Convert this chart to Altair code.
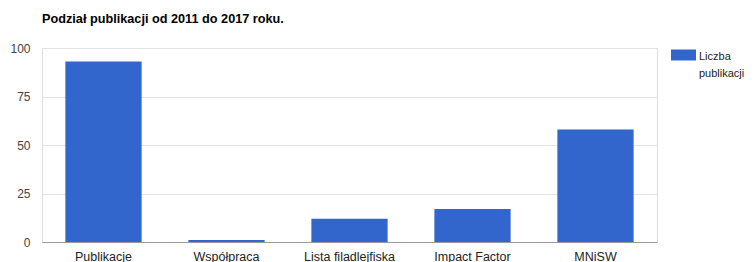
import altair as alt
import pandas as pd

categories = ["Publikacje", "Współpraca", "Lista filadlejfiska", "Impact Factor", "MNiSW"]
values = [93, 1, 12, 17, 58]
series = ["Liczba publikacji"] * len(categories)

df = pd.DataFrame({"kategoria": categories, "liczba": values, "seria": series})

FONT = "Liberation Sans"

chart = alt.Chart(df).mark_bar(color="#3366cc").encode(
    x=alt.X("kategoria:N", sort=categories, title=None,
            scale=alt.Scale(paddingInner=0.38, paddingOuter=0.19),
            axis=alt.Axis(labelAngle=0, ticks=False, domain=True, domainColor="#999999",
                          labelColor="#222222", labelFontSize=12.5, labelPadding=8,
                          labelFont=FONT)),
    y=alt.Y("liczba:Q", title=None, scale=alt.Scale(domain=[0, 100]),
            axis=alt.Axis(values=[0, 25, 50, 75, 100], ticks=False, domain=False,
                          gridColor="#e4e4e4", labelColor="#444444", labelFontSize=12,
                          labelPadding=12, labelFont=FONT)),
    color=alt.Color("seria:N", scale=alt.Scale(range=["#3366cc"]),
                    legend=alt.Legend(title=None, orient="none", legendX=629, legendY=-4,
                                      symbolType="M-1,-0.56H1V0.32H-1Z", symbolSize=625,
                                      symbolStrokeWidth=0, symbolOpacity=1,
                                      labelExpr="split(datum.label, ' ')",
                                      labelFontSize=11, labelColor="#222222", labelFont=FONT,
                                      labelOffset=3, labelBaseline="middle")),
).properties(
    width=615,
    height=194,
    title=alt.Title("Podział publikacji od 2011 do 2017 roku.", anchor="start", fontSize=12.7,
                    fontWeight="bold", font=FONT, color="#000000", offset=16, frame="group"),
    autosize=alt.AutoSizeParams(type="none"),
    padding={"left": 34, "top": 40, "right": 90, "bottom": 20},
).configure_view(stroke=None).configure(style={"guide-label": {"lineHeight": 17}})

chart.save("out.html", embed_options={"renderer": "svg", "actions": False})
